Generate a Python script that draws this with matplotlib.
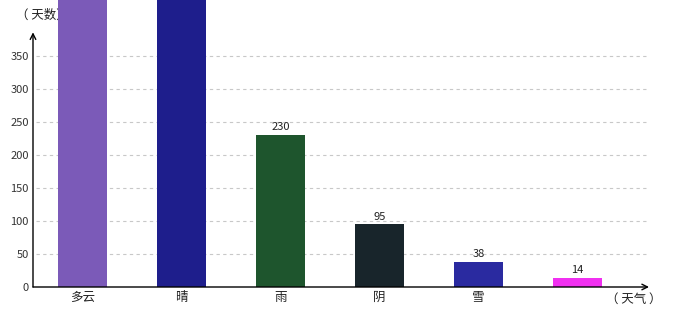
import matplotlib
matplotlib.use("Agg")
import matplotlib.pyplot as plt

plt.rcParams['font.family'] = ['Noto Sans CJK SC', 'DejaVu Sans']

# 数据
categories = ['多云', '晴', '雨', '阴', '雪', '']
days = [480, 520, 230, 95, 38, 14]
colors = ['#7b5ab8', '#1e1e8c', '#1e552d', '#18252b', '#2a2aa0', '#f030f0']
yticks = [0, 50, 100, 150, 200, 250, 300, 350]

fig = plt.figure(figsize=(6.8, 3.2), dpi=100)
ax = fig.add_axes([33 / 680, 33 / 320, (650 - 33) / 680, 287 / 320])

x = range(len(categories))
bars = ax.bar(x, days, width=0.49, color=colors, zorder=3)
ax.bar_label(bars, labels=[str(v) for v in days], padding=2, fontsize=8, color='#222222')

ax.set_xlim(-0.5, 5.73)
ax.set_ylim(0, 435)
ax.set_xticks(list(x))
ax.set_xticklabels(categories, fontsize=9, color='#222222')
ax.set_yticks(yticks)
ax.set_yticklabels([str(v) for v in yticks], fontsize=8, color='#333333')
ax.tick_params(length=0, pad=3)

for s in ax.spines.values():
    s.set_visible(False)

# 网格线
for v in yticks[1:]:
    ax.plot([-0.47, 5.69], [v, v], color='#c8c8c8', lw=0.8, ls=(0, (3, 3)), zorder=1)

# 坐标轴箭头
ax.annotate('', xy=(-0.5, 386), xytext=(-0.5, 0),
            arrowprops=dict(arrowstyle='->', color='black', lw=1, shrinkA=0, shrinkB=0),
            annotation_clip=False, zorder=4)
ax.annotate('', xy=(5.72, 0), xytext=(-0.5, 0),
            arrowprops=dict(arrowstyle='->', color='black', lw=1, shrinkA=0, shrinkB=0),
            annotation_clip=False, zorder=4)

# 轴名称（放在柱子下面）
ax.text(16 / 680, 1 - 15 / 320, '（ 天数）', fontsize=9, color='#222222', va='center', ha='left',
        transform=fig.transFigure, clip_on=False, zorder=2)
ax.text(606 / 680, 1 - 299 / 320, '（ 天气 ）', fontsize=9, color='#222222', va='center', ha='left',
        transform=fig.transFigure, clip_on=False, zorder=2)

fig.savefig('out.png', dpi=100, facecolor='white')
